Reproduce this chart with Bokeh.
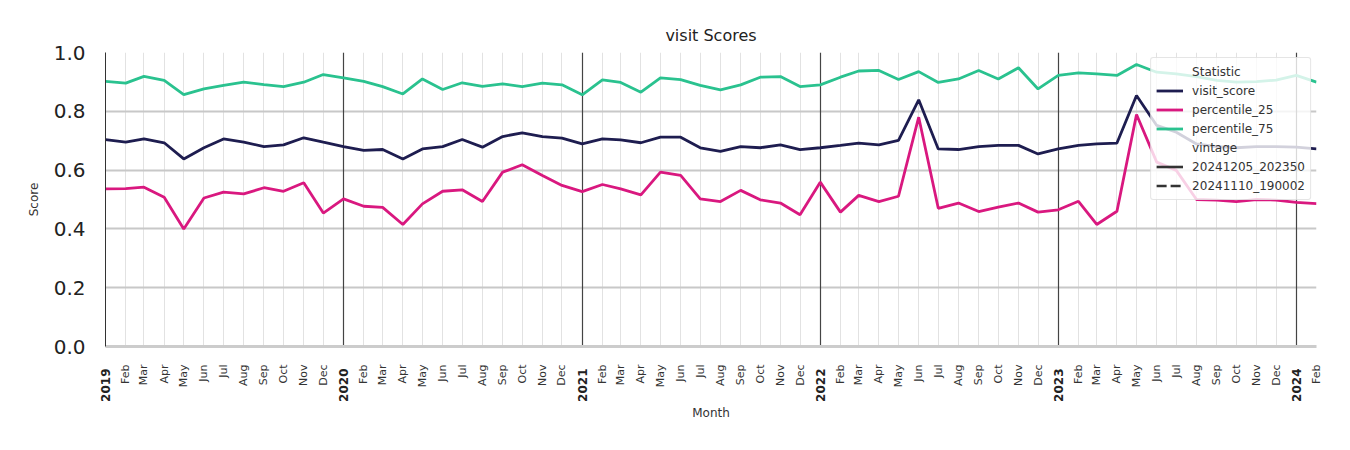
import math
import pandas as pd
from bokeh.plotting import figure
from bokeh.models import (FixedTicker, NumeralTickFormatter, Legend, LegendItem,
                          Grid, Range1d, LinearAxis)
from bokeh.embed import file_html
from bokeh.resources import INLINE

# ---------------- data ----------------
months = pd.date_range("2019-01-01", "2024-02-01", freq="MS")

visit_score = [
    0.704, 0.695, 0.706, 0.693, 0.638, 0.676, 0.706, 0.695, 0.680, 0.686, 0.710, 0.695,
    0.680, 0.667, 0.670, 0.638, 0.672, 0.680, 0.704, 0.678, 0.714, 0.727, 0.714, 0.709,
    0.689, 0.706, 0.703, 0.693, 0.712, 0.712, 0.676, 0.664, 0.680, 0.676, 0.686, 0.670,
    0.676, 0.684, 0.692, 0.686, 0.701, 0.839, 0.672, 0.670, 0.680, 0.684, 0.684, 0.655,
    0.672, 0.684, 0.689, 0.692, 0.854, 0.752, 0.729, 0.689, 0.680, 0.676, 0.680, 0.680,
    0.678, 0.672,
]
percentile_25 = [
    0.536, 0.537, 0.542, 0.508, 0.400, 0.505, 0.525, 0.519, 0.540, 0.528, 0.557, 0.454,
    0.502, 0.477, 0.473, 0.415, 0.485, 0.528, 0.533, 0.493, 0.593, 0.618, 0.582, 0.548,
    0.527, 0.551, 0.536, 0.516, 0.593, 0.582, 0.502, 0.493, 0.531, 0.499, 0.488, 0.448,
    0.559, 0.457, 0.514, 0.493, 0.511, 0.780, 0.470, 0.488, 0.459, 0.474, 0.488, 0.457,
    0.465, 0.494, 0.415, 0.460, 0.789, 0.627, 0.599, 0.500, 0.498, 0.493, 0.500, 0.498,
    0.490, 0.486,
]
percentile_75 = [
    0.902, 0.896, 0.919, 0.905, 0.857, 0.876, 0.888, 0.899, 0.891, 0.884, 0.899, 0.925,
    0.914, 0.902, 0.884, 0.859, 0.910, 0.874, 0.897, 0.885, 0.893, 0.884, 0.896, 0.890,
    0.856, 0.907, 0.898, 0.865, 0.914, 0.908, 0.888, 0.873, 0.890, 0.916, 0.918, 0.884,
    0.890, 0.916, 0.937, 0.939, 0.908, 0.935, 0.898, 0.910, 0.939, 0.910, 0.948, 0.876,
    0.922, 0.931, 0.927, 0.922, 0.959, 0.933, 0.927, 0.918, 0.905, 0.899, 0.901, 0.906,
    0.922, 0.899,
]
y_ticks = [0.0, 0.2, 0.4, 0.6, 0.8, 1.0]
series_names = ["visit_score", "percentile_25", "percentile_75"]
series_colors = ["#1e1d50", "#d9187f", "#2ac28f"]
vintages = ["20241205_202350", "20241110_190002"]
vintage_dashes = ["solid", "10 4"]

# ---------------- helpers ----------------
x_ms = [int(d.timestamp() * 1000) for d in months]
month_labels = [d.strftime("%b") for d in months]
year_ms = [x for x, d in zip(x_ms, months) if d.month == 1]
year_labels = [str(d.year) for d in months if d.month == 1]
FONT = "DejaVu Sans"

p = figure(width=1350, height=450, output_backend="svg", toolbar_location=None,
           x_range=Range1d(x_ms[0], x_ms[-1]), y_range=Range1d(0, 1.0),
           min_border_left=105, min_border_right=34, min_border_top=52,
           min_border_bottom=104)
p.outline_line_color = None
p.background_fill_color = "white"
p.border_fill_color = "white"

p.title.text = "visit Scores"
p.title.align = "center"
p.title.text_font = FONT
p.title.text_font_size = "16px"
p.title.text_font_style = "normal"
p.title.text_color = "#222222"
p.title.standoff = 16

# x axis (months, inner)
mx = p.xaxis[0]
mx.ticker = FixedTicker(ticks=x_ms)
mx.major_label_overrides = {x: ("" if d.month == 1 else lbl)
                            for x, d, lbl in zip(x_ms, months, month_labels)}
mx.major_label_orientation = math.pi / 2
mx.major_label_text_font = FONT
mx.major_label_text_font_size = "11px"
mx.major_label_text_color = "#333333"
mx.major_label_standoff = 18
mx.major_tick_out = 0
mx.minor_tick_out = 0
mx.major_tick_line_color = None
mx.minor_tick_line_color = None
mx.axis_line_color = "#cccccc"
mx.axis_line_width = 3

# x axis (years, bold, outer, pulled back up next to the month labels)
yx = LinearAxis(ticker=FixedTicker(ticks=year_ms),
                major_label_overrides={x: lbl for x, lbl in zip(year_ms, year_labels)},
                major_label_orientation=math.pi / 2,
                major_label_text_font=FONT, major_label_text_font_size="12px",
                major_label_text_font_style="bold", major_label_text_color="#222222",
                major_label_standoff=-22, major_tick_out=0, minor_tick_out=0,
                major_tick_line_color=None, minor_tick_line_color=None,
                axis_line_color=None,
                axis_label="Month", axis_label_text_font=FONT,
                axis_label_text_font_size="12px", axis_label_text_font_style="normal",
                axis_label_text_color="#333333", axis_label_standoff=1)
p.add_layout(yx, "below")

# y axis
p.yaxis.ticker = FixedTicker(ticks=y_ticks)
p.yaxis.formatter = NumeralTickFormatter(format="0.0")
p.yaxis.major_label_text_font = FONT
p.yaxis.major_label_text_font_size = "20px"
p.yaxis.major_label_text_color = "#222222"
p.yaxis.major_label_standoff = 20
p.yaxis.major_tick_out = 0
p.yaxis.minor_tick_out = 0
p.yaxis.major_tick_line_color = None
p.yaxis.minor_tick_line_color = None
p.yaxis.axis_line_color = "#333333"
p.yaxis.axis_line_width = 1
p.yaxis.axis_label = "Score"
p.yaxis.axis_label_text_font = FONT
p.yaxis.axis_label_text_font_size = "12px"
p.yaxis.axis_label_text_font_style = "normal"
p.yaxis.axis_label_text_color = "#333333"
p.yaxis.axis_label_standoff = 10

# grids
p.xgrid.ticker = FixedTicker(ticks=x_ms)
p.xgrid.grid_line_color = "#e2e2e2"
p.xgrid.grid_line_width = 1
p.ygrid.ticker = FixedTicker(ticks=y_ticks)
p.ygrid.grid_line_color = "#c8c8c8"
p.ygrid.grid_line_width = 2
year_grid = Grid(dimension=0, ticker=FixedTicker(ticks=year_ms[1:]),
                 grid_line_color="#444444", grid_line_width=1.2)
p.add_layout(year_grid)

# series
series_vals = [visit_score, percentile_25, percentile_75]
renderers = []
for name, vals, col in zip(series_names, series_vals, series_colors):
    r = p.line(x_ms, vals, line_color=col, line_width=2.8)
    renderers.append(r)

# legend helper renderers
nan = float("nan")
hdr1 = p.line([x_ms[0]], [nan], line_alpha=0)
hdr2 = p.line([x_ms[0]], [nan], line_alpha=0)
vint_r = [p.line([x_ms[0]], [nan], line_color="#333333", line_width=2.6, line_dash=d)
          for d in vintage_dashes]

items = [LegendItem(label="Statistic", renderers=[hdr1])]
items += [LegendItem(label=n, renderers=[r]) for n, r in zip(series_names, renderers)]
items += [LegendItem(label="vintage", renderers=[hdr2])]
items += [LegendItem(label=v, renderers=[r]) for v, r in zip(vintages, vint_r)]

legend = Legend(items=items, location="top_right", margin=5, padding=5, spacing=2,
                glyph_width=27, glyph_height=17, label_height=17, label_standoff=9,
                label_text_font=FONT, label_text_font_size="12px",
                label_text_color="#333333",
                background_fill_color="white", background_fill_alpha=0.8,
                border_line_color="#cccccc", border_line_width=1,
                border_radius=3)
p.add_layout(legend)

open("out.html", "w").write(file_html(p, INLINE))
